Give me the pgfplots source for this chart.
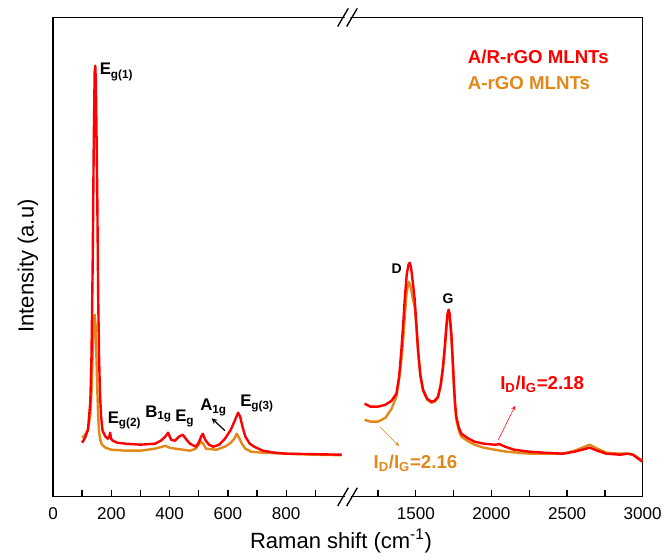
\documentclass[border=0pt]{standalone}
\usepackage{fontspec}
\setmainfont{Liberation Sans}
\usepackage{pgfplots}
\pgfplotsset{compat=1.18}
\definecolor{arred}{RGB}{255,0,0}
\definecolor{aorg}{RGB}{226,136,24}

\pgfplotsset{
  raman/.style={
    scale only axis, height=359.4pt,
    ymin=0, ymax=479.2, ytick=\empty,
    axis line style={line width=1.2pt},
    tick style={line width=1pt, black},
    major tick length=5pt, minor tick length=5pt,
    tick align=inside,
    xticklabel style={font=\fontsize{12.8}{15}\selectfont, yshift=-5pt},
    /pgf/number format/assume math mode=true,
    /pgf/number format/1000 sep={},
  },
  red line/.style={color=arred, line width=1.8pt, line join=round},
  org line/.style={color=aorg, line width=1.8pt, line join=round},
}

\begin{document}
\begin{tikzpicture}
\path[use as bounding box] (0,0) rectangle (498pt,420pt);

% left segment 0-1012
\begin{axis}[raman,
  at={(39.75pt,47.475pt)}, anchor=south west, width=221.25pt,
  axis x line*=box, axis y line*=left, xtick pos=left,
  xmin=0, xmax=1012,
  xtick={0,200,400,600,800}, minor xtick={100,300,500,700,900}]
\addplot[org line] coordinates {
(100,59)(110,62)(120,67)(128,82)(133,110)(137,150)(141,180)(143,182)(146,172)
(149,140)(152,107)(155,80)(158,65)(162,57)(168,52)(180,49)(200,47)(250,46)
(300,46)(350,48)(375,50)(385,51)(400,49)(420,48)(470,46)(490,48)(502,53)
(508,55)(515,53)(525,48)(560,47)(590,50)(610,54)(622,58)(630,63)(638,59)
(648,53)(660,48)(680,45)(720,44)(800,43)(900,42)(990,41.5)};
\addplot[red line] coordinates {
(100,54)(110,59)(120,67)(128,95)(132,140)(136,230)(140,360)(143,425)(145,431)
(147,415)(149,370)(152,297)(155,200)(158,140)(161,105)(165,80)(170,66)(180,60)
(188,58)(193,60)(196,64)(199,58)(205,56)(220,54)(250,53)(300,52)(350,53)
(370,56)(385,60)(395,64)(405,57)(418,56)(432,60)(445,62)(458,57)(470,53)
(490,50)(500,54)(508,60)(514,63)(522,57)(535,52)(550,50)(570,52)(590,58)
(610,67)(625,77)(635,84)(642,80)(650,70)(660,60)(675,53)(690,50)(720,46)
(760,44)(800,43)(900,42.5)(990,42)};
\end{axis}

% right segment 1052-3000
\begin{axis}[raman,
  at={(261pt,47.475pt)}, anchor=south west, width=221pt,
  axis x line*=box, axis y line*=right, xtick pos=left,
  xmin=1052, xmax=3000,
  xtick={1500,2000,2500,3000}, minor xtick={1250,1750,2250,2750}]
\addplot[org line] coordinates {
(1162,77)(1200,75)(1250,75)(1300,79)(1340,88)(1372,100)(1390,118)(1405,137)
(1418,160)(1427,180)(1440,205)(1453,215)(1462,212)(1472,205)(1482,197)
(1493,190)(1505,168)(1515,146)(1530,121)(1548,106)(1575,97)(1603,94)(1625,95)
(1647,99)(1665,111)(1680,128)(1692,148)(1702,168)(1710,180)(1717,184)
(1724,180)(1735,160)(1745,132)(1752,110)(1760,90)(1768,77)(1785,66)(1801,60)
(1850,55)(1889,52)(1950,49)(2021,47)(2100,45)(2253,43)(2350,43)(2473,43)
(2550,46)(2600,49)(2649,52)(2700,48)(2760,44)(2850,43)(2903,43)(2936,42)
(2970,39)(3000,36)};
\addplot[red line] coordinates {
(1162,93)(1200,90)(1250,90)(1300,92)(1340,96)(1372,103)(1390,120)(1405,147)
(1418,175)(1427,197)(1440,222)(1452,232)(1460,234)(1468,230)(1480,215)
(1493,197)(1505,170)(1515,147)(1530,122)(1548,107)(1575,98)(1603,95)
(1625,96)(1647,100)(1665,112)(1680,130)(1692,150)(1702,170)(1710,183)
(1717,187)(1724,183)(1735,163)(1745,135)(1752,113)(1760,93)(1768,80)
(1785,69)(1801,63)(1850,58)(1889,55)(1950,53)(2021,52)(2055,52.5)(2090,50)
(2150,47)(2253,45)(2350,44)(2473,43)(2550,45)(2600,47)(2649,49)(2700,46)
(2760,43)(2850,42)(2903,43)(2936,42)(2970,38)(3000,35)};
\end{axis}

% annotations in pixel coordinates of the reference
\begin{scope}[x=0.75pt, y=-0.75pt, yshift=420pt]
  % axis breaks
  \foreach \yy in {17.5,497} {
    \fill[white] (340,\yy+8) -- (350,\yy-8.5) -- (355.5,\yy-8.5) -- (345.5,\yy+8) -- cycle;
    \draw[line width=1pt] (337.7,\yy+9) -- (348.3,\yy-9.2);
    \draw[line width=1pt] (346.7,\yy+9) -- (357.3,\yy-9.2);
  }
  \begin{scope}[font=\fontsize{12.6}{14}\selectfont\bfseries]
    \node[anchor=base west, inner sep=0] at (99.5,75) {E\textsubscript{g(1)}};
    \node[anchor=base west, inner sep=0] at (107.5,423.3) {E\textsubscript{g(2)}};
    \node[anchor=base west, inner sep=0] at (145,417.3) {B\textsubscript{1g}};
    \node[anchor=base west, inner sep=0] at (175,421.7) {E\textsubscript{g}};
    \node[anchor=base west, inner sep=0] at (200,411) {A\textsubscript{1g}};
    \node[anchor=base west, inner sep=0] at (240,406.7) {E\textsubscript{g(3)}};
  \end{scope}
  \draw[-stealth, line width=0.9pt] (225,430.7) -- (211.7,418.3);
  \node[anchor=base, inner sep=0, font=\fontsize{10.5}{12}\selectfont\bfseries] at (396.7,274) {D};
  \node[anchor=base, inner sep=0, font=\fontsize{10.5}{12}\selectfont\bfseries] at (448,303.3) {G};
  \node[anchor=base west, inner sep=0, text=arred, font=\fontsize{14}{16}\selectfont\bfseries] at (467.7,63.3) {A/R-rGO MLNTs};
  \node[anchor=base west, inner sep=0, text=aorg, font=\fontsize{14}{16}\selectfont\bfseries] at (467.7,89.3) {A-rGO MLNTs};
  \node[anchor=base west, inner sep=0, text=arred, font=\fontsize{14}{16}\selectfont\bfseries] at (500,390) {I\textsubscript{D}/I\textsubscript{G}=2.18};
  \node[anchor=base west, inner sep=0, text=aorg, font=\fontsize{14}{16}\selectfont\bfseries] at (373.3,468.3) {I\textsubscript{D}/I\textsubscript{G}=2.16};
  \draw[-stealth, arred, line width=0.4pt] (498.3,440) -- (515,406);
  \draw[-stealth, aorg, line width=0.4pt] (380,427) -- (399,446);
  % axis titles
  \node[font=\fontsize{16.5}{18}\selectfont] at (341,541) {Raman shift (cm\textsuperscript{-1})};
  \node[rotate=90, font=\fontsize{16.5}{18}\selectfont] at (28,266) {Intensity (a.u)};
\end{scope}
\end{tikzpicture}
\end{document}
